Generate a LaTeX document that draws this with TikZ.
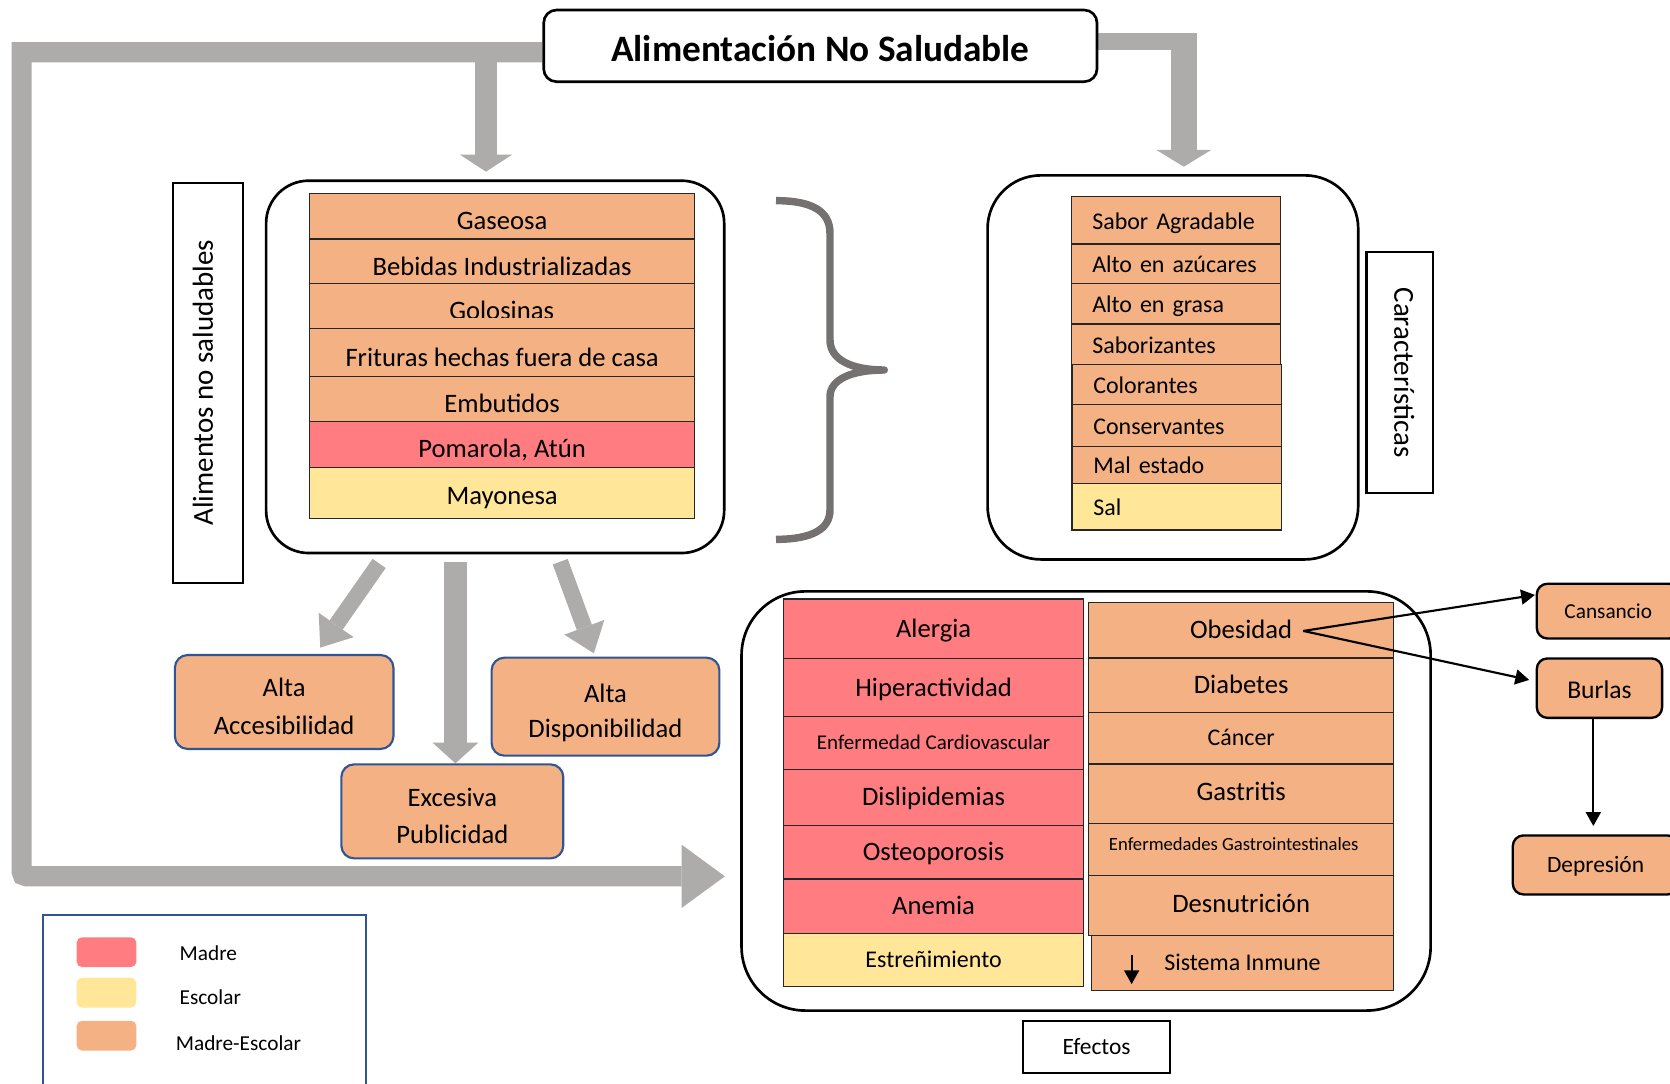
\documentclass[tikz,border=0pt]{standalone}
\usepackage{fontspec}
\setmainfont{Carlito}
\usetikzlibrary{arrows.meta,backgrounds,calc}

\definecolor{cOrange}{HTML}{F4B183}
\definecolor{cRed}{HTML}{FF7C80}
\definecolor{cYellow}{HTML}{FFE699}
\definecolor{cGray}{HTML}{AEABAB}
\definecolor{cBrace}{HTML}{767171}
\definecolor{cBlue}{HTML}{2F5597}
\newcommand{\fsz}[1]{\fontsize{#1pt}{#1pt}\selectfont}

\begin{document}
\begin{tikzpicture}[x=1pt,y=-1pt,
  every node/.style={inner sep=0pt},
  ft/.style 2 args={font=\fsz{#1}, text height=#2pt, text depth=0pt},
  container/.style={draw=black, line width=2.5pt, anchor=north west},
  cell/.style={draw=black!85, line width=1.1pt, anchor=north west},
  chcell/.style={cell, fill=cOrange, minimum width=196.6pt, text width=157pt,
    align=left, ft={22.5}{16.5}},
  bluebox/.style={draw=cBlue, line width=2pt, fill=cOrange, rounded corners=12pt,
    align=center, font=\fontsize{25pt}{35pt}\selectfont},
  blackbox/.style={draw=black, line width=2.2pt, fill=cOrange, rounded corners=10pt,
    anchor=north west},
  labelbox/.style={draw=black, line width=2pt},
  swatch/.style={rounded corners=5pt, minimum width=56pt, minimum height=28pt},
  graybar/.style={draw=cGray, line cap=butt, line join=miter},
  blk/.style={draw=black, line width=2pt, -{Triangle[width=14pt,length=13pt]}}
]
\useasboundingbox (0,0) rectangle (1568,1017);

% ---------- title ----------
\node[draw=black, line width=2.5pt, rounded corners=12pt, fill=white,
      minimum width=519.5pt, minimum height=67.3pt,
      font=\bfseries\fsz{35}, text height=30pt, text depth=0pt]
      (title) at (770.25,43.05) {Alimentación No Saludable};

% ---------- unhealthy foods ----------
\node[labelbox, rotate=90, minimum width=375.5pt, minimum height=65.4pt,
      ft={27.2}{17.5}, text depth=8pt] (lblFoods) at (195.1,359.25)
      {Alimentos no saludables};
\node[container, rounded corners=40pt, minimum width=430.1pt, minimum height=349.6pt]
      (foods) at (248.6,168.4) {};

\node[cell, fill=cOrange, minimum width=361.8pt, minimum height=42.9pt, ft={25}{26}]
      (fGas) at (290,180.9) {Gaseosa};
\node[cell, fill=cOrange, minimum width=361.8pt, minimum height=42.2pt, ft={25}{26}]
      (fBeb) at (290,223.8) {Bebidas Industrializadas};
\node[cell, fill=cOrange, minimum width=361.8pt, minimum height=42pt]
      (fGol) at (290,266) {};
\begin{scope}
  \clip (291,266.6) rectangle (651,298.4);
  \node[anchor=base, font=\fsz{25}] (fGolT) at (471,300) {Golosinas};
\end{scope}
\node[cell, fill=cOrange, minimum width=361.8pt, minimum height=44.7pt, ft={25}{26}]
      (fFri) at (290,308) {Frituras hechas fuera de casa};
\node[cell, fill=cOrange, minimum width=361.8pt, minimum height=42.3pt, ft={25}{26}]
      (fEmb) at (290,352.7) {Embutidos};
\node[cell, fill=cRed, minimum width=361.8pt, minimum height=43.2pt, ft={25}{24}]
      (fPom) at (290,395) {Pomarola, Atún};
\node[cell, fill=cYellow, minimum width=361.8pt, minimum height=47.8pt, ft={25}{22}]
      (fMay) at (290,438.2) {Mayonesa};

% ---------- characteristics ----------
\node[container, rounded corners=50pt, minimum width=348pt, minimum height=360.6pt]
      (chars) at (926,163.4) {};
\node[chcell, minimum height=44.5pt] (cS1) at (1005.2,184) {Sabor Agradable};
\node[chcell, minimum height=37.5pt] (cS2) at (1005.2,228.5) {Alto en azúcares};
\node[chcell, minimum height=37.6pt] (cS3) at (1005.2,266) {Alto en grasa};
\node[chcell, minimum height=38.2pt] (cS4) at (1005.2,303.6) {Saborizantes};
\node[chcell, minimum width=197pt, minimum height=37.8pt] (cS5) at (1006,341.8) {Colorantes};
\node[chcell, minimum width=197pt, minimum height=39.1pt] (cS6) at (1006,379.6) {Conservantes};
\node[chcell, minimum width=197pt, minimum height=34.5pt] (cS7) at (1006,418.7) {Mal estado};
\node[chcell, fill=cYellow, minimum width=197pt, minimum height=43.8pt] (cS8) at (1006,453.2) {Sal};

\node[labelbox, rotate=-90, minimum width=225.6pt, minimum height=62.7pt,
      ft={27.2}{17.5}, text depth=7pt] (lblChar) at (1314.4,349.8) {Características};

% ---------- factors ----------
\node[bluebox, minimum width=205.2pt, minimum height=88.2pt] (acc) at (266.8,659.1)
      {\rule{0pt}{25.5pt}Alta\\Accesibilidad};
\node[bluebox, font=\fontsize{25pt}{33pt}\selectfont, minimum width=213.9pt,
      minimum height=92pt] (disp) at (568.5,663.5)
      {\rule{0pt}{29.5pt}Alta\\Disponibilidad};
\node[bluebox, minimum width=208.4pt, minimum height=88.3pt] (publ) at (424.7,761.8)
      {\rule{0pt}{26pt}Excesiva\\Publicidad};

% ---------- effects ----------
\node[container, rounded corners=60pt, minimum width=647pt, minimum height=393.6pt]
      (effects) at (695,554) {};

\node[cell, fill=cRed, minimum width=282pt, minimum height=55.7pt, ft={25}{16.1}]
      (eAl) at (735,561.8) {Alergia};
\node[cell, fill=cRed, minimum width=282pt, minimum height=55pt, ft={25}{16.1}]
      (eHi) at (735,617.5) {Hiperactividad};
\node[cell, fill=cRed, minimum width=282pt, minimum height=49.2pt, ft={19.7}{12.7}]
      (eEC) at (735,672.5) {Enfermedad Cardiovascular};
\node[cell, fill=cRed, minimum width=282pt, minimum height=52.9pt, ft={25}{16.1}]
      (eDi) at (735,721.7) {Dislipidemias};
\node[cell, fill=cRed, minimum width=282pt, minimum height=50.1pt, ft={25}{16.1}]
      (eOs) at (735,774.6) {Osteoporosis};
\node[cell, fill=cRed, minimum width=282pt, minimum height=51.6pt, ft={25}{16.1}]
      (eAn) at (735,824.7) {Anemia};
\node[cell, fill=cYellow, minimum width=282pt, minimum height=49.4pt, ft={22.5}{14.5}]
      (eEs) at (735,876.3) {Estreñimiento};

\node[cell, fill=cOrange, minimum width=286.4pt, minimum height=52.3pt, ft={25}{16.1}]
      (eOb) at (1021.6,564.9) {Obesidad};
\node[cell, fill=cOrange, minimum width=286.4pt, minimum height=51pt, ft={25}{16.1}]
      (eDb) at (1021.6,617.2) {Diabetes};
\node[cell, fill=cOrange, minimum width=286.4pt, minimum height=48.5pt, ft={22.5}{14.5}]
      (eCa) at (1021.6,668.2) {Cáncer};
\node[cell, fill=cOrange, minimum width=286.4pt, minimum height=55.7pt, ft={25}{16.1},
      text depth=4pt] (eGa) at (1021.6,716.7) {Gastritis};
\node[cell, fill=cOrange, minimum width=286.4pt, minimum height=49.4pt, ft={17.5}{11.3},
      text depth=10pt] (eEG) at (1021.6,772.4)
      {Enfermedades Gastrointestinales\hspace*{14pt}};
\node[cell, fill=cOrange, minimum width=286.4pt, minimum height=56.1pt, ft={25}{16.1},
      text depth=3pt] (eDe) at (1021.6,821.8) {Desnutrición};
\node[cell, fill=cOrange, minimum width=284pt, minimum height=51.6pt, ft={22.5}{14.5}]
      (eSI) at (1024,877.9) {Sistema Inmune};
\coordinate (siA) at (1062.5,896.6);
\coordinate (siB) at (1062.5,924);
\draw[blk, line width=1.8pt] (siA) -- (siB);

\node[labelbox, anchor=north west, minimum width=138.4pt, minimum height=48.6pt,
      ft={22}{14.2}] (efx) at (959.4,957.6) {Efectos};

% ---------- consequences of obesity ----------
\node[blackbox, minimum width=134.2pt, minimum height=51.4pt, ft={20}{12.9}]
      (cans) at (1441.8,547) {Cansancio};
\node[blackbox, minimum width=117.7pt, minimum height=55.8pt, ft={24}{19.5}]
      (burl) at (1441.8,617.1) {Burlas};
\node[blackbox, minimum width=155.4pt, minimum height=55.4pt, ft={22}{14.2}]
      (dep) at (1419.3,783.3) {Depresión};

\coordinate (obPt) at (1223.7,592.4);
\draw[blk] (obPt) -- ($(cans.north west)+(-0.6,11.6)$);
\draw[blk] (obPt) -- ($(burl.north west)+(-6,21.3)$);
\coordinate (bS) at (1496,673.8);
\coordinate (dN) at (1496,775.5);
\draw[blk] (bS) -- (dN);

% ---------- legend ----------
\node[draw=cBlue, line width=2pt, anchor=north west, minimum width=303.3pt,
      minimum height=200pt] (legend) at (39,858) {};
\node[swatch, fill=cRed] (swR) at (100,894) {};
\node[swatch, fill=cYellow] (swY) at (100,932) {};
\node[swatch, fill=cOrange] (swO) at (100,972.4) {};
\node[anchor=west, ft={20}{12.9}] (lgR) at (168.5,895.4) {Madre};
\node[anchor=west, ft={20}{12.9}] (lgY) at (168.5,936.5) {Escolar};
\node[anchor=west, ft={20}{12.9}] (lgO) at (164.9,979.9) {Madre-Escolar};

% ---------- thick grey connectors and brace ----------
\coordinate (effIn) at (680.6,822.8);
\coordinate (foodsIn) at (456.3,161.2);
\coordinate (charsIn) at (1111.5,156.5);
\coordinate (fA) at (356,529);
\coordinate (accIn) at (300.7,608.1);
\coordinate (fB) at (427.6,527.4);
\coordinate (publIn) at (427.6,716.7);
\coordinate (fC) at (526,527.4);
\coordinate (dispIn) at (557.6,613.4);

\begin{pgfonlayer}{background}
  \draw[graybar, line width=19pt,
        -{Triangle[width=59.4pt,length=40.6pt,line width=0pt]}]
    ($(title.west)+(0,6)$) -- (20.3,49) -- (20.3,812.8)
    .. controls (20.3,822.8) .. (30.3,822.8) -- (effIn);
  \draw[graybar, line width=21.5pt,
        -{Triangle[width=49pt,length=16pt,line width=0pt]}]
    (456.3,49) -- (foodsIn);
  \draw[graybar, line width=15.7pt] ($(title.east)+(0,-3.85)$) -- (1123.5,39.2);
  \draw[graybar, line width=24pt,
        -{Triangle[width=51.4pt,length=15.7pt,line width=0pt]}]
    (1111.5,31.35) -- (charsIn);
  \draw[graybar, line width=15pt,
        -{Triangle[width=40pt,length=26pt,line width=0pt]}] (fA) -- (accIn);
  \draw[graybar, line width=21.6pt,
        -{Triangle[width=43pt,length=19.4pt,line width=0pt]}] (fB) -- (publIn);
  \draw[graybar, line width=15pt,
        -{Triangle[width=40pt,length=26pt,line width=0pt]}] (fC) -- (dispIn);

  \draw[cBrace, line width=7pt, line cap=butt, line join=round]
    (728.6,188.4) .. controls (762,188.4) and (779.3,198) .. (779.3,219)
    -- (779.3,319.2) .. controls (779.3,338) and (800,347.4) .. (830.3,347.4)
    .. controls (800,347.4) and (779.3,356) .. (779.3,372.4)
    -- (779.3,478.8) .. controls (779.3,497) and (762,506.4) .. (728.6,506.4);
\end{pgfonlayer}
\end{tikzpicture}
\end{document}
